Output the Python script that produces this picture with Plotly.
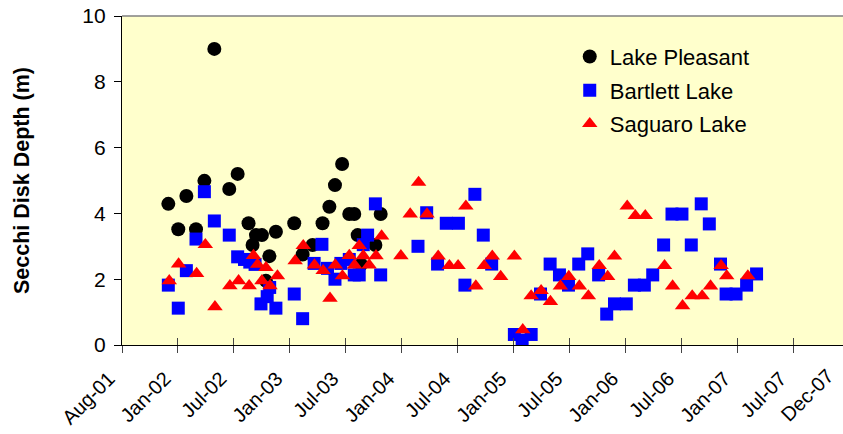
import plotly.graph_objects as go
import pandas as pd

# ---------------- data ----------------
pleasant_dates = ['2001-12-28','2002-01-29','2002-02-24','2002-03-27','2002-04-23','2002-05-25',
                  '2002-07-12','2002-08-08','2002-09-12','2002-09-25','2002-10-06','2002-10-25',
                  '2002-11-07','2002-11-18','2002-12-09','2003-02-06','2003-03-05','2003-04-06',
                  '2003-05-08','2003-05-30','2003-06-17','2003-07-10','2003-08-02','2003-08-18',
                  '2003-08-29','2003-09-09','2003-10-25','2003-11-11']
pleasant_depth = [4.29, 3.52, 4.53, 3.52, 4.99, 9.0,
                  4.74, 5.20, 3.70, 3.04, 3.34, 3.34,
                  1.95, 2.70, 3.44, 3.70, 2.75, 3.04,
                  3.70, 4.20, 4.86, 5.50, 3.98, 3.98,
                  3.34, 2.45, 3.04, 3.98]

bartlett_dates = ['2001-12-28','2002-01-29','2002-02-24','2002-03-27','2002-04-23','2002-05-25',
                  '2002-07-12','2002-08-08','2002-08-30','2002-09-16','2002-10-03','2002-10-22',
                  '2002-11-11','2002-11-19','2002-12-09','2003-02-06','2003-03-05','2003-04-11',
                  '2003-05-06','2003-05-24','2003-06-17','2003-07-06','2003-08-02','2003-08-18',
                  '2003-09-03','2003-09-16','2003-09-30','2003-10-25','2003-11-11','2004-03-10',
                  '2004-04-07','2004-05-12','2004-06-09','2004-07-18','2004-08-08','2004-09-09',
                  '2004-10-06','2004-11-02','2005-01-14','2005-02-08','2005-03-09','2005-04-08',
                  '2005-05-09','2005-06-08','2005-07-07','2005-08-09','2005-09-07','2005-10-12',
                  '2005-11-07','2005-12-02','2006-01-09','2006-02-04','2006-03-08','2006-04-04',
                  '2006-05-09','2006-06-05','2006-07-07','2006-08-06','2006-09-07','2006-10-03',
                  '2006-11-08','2006-11-26','2006-12-28','2007-01-31','2007-03-04']
bartlett_depth = [1.82, 1.12, 2.26, 3.22, 4.66, 3.77,
                  3.34, 2.68, 2.60, 2.52, 2.45, 1.25,
                  1.47, 1.75, 1.12, 1.55, 0.80, 2.48,
                  3.06, 2.33, 2.00, 2.48, 2.60, 2.13,
                  2.13, 3.05, 3.34, 4.29, 2.13, 3.00,
                  4.02, 2.46, 3.70, 3.70, 1.82, 4.58,
                  3.34, 2.46, 0.32, 0.15, 0.32, 1.55,
                  2.46, 2.13, 1.82, 2.46, 2.77, 2.13,
                  0.94, 1.25, 1.25, 1.82, 1.82, 2.13,
                  3.04, 3.98, 3.98, 3.04, 4.29, 3.68,
                  2.46, 1.55, 1.55, 1.82, 2.16]

saguaro_dates = ['2001-12-31','2002-01-30','2002-03-29','2002-04-26','2002-05-27','2002-07-14',
                 '2002-08-11','2002-09-14','2002-09-28','2002-10-11','2002-10-25','2002-11-07',
                 '2002-11-20','2002-12-14','2003-02-09','2003-03-07','2003-04-12','2003-05-10',
                 '2003-06-01','2003-06-18','2003-07-11','2003-08-02','2003-08-19','2003-09-03',
                 '2003-09-16','2003-10-05','2003-10-27','2003-11-14','2004-01-15','2004-02-14',
                 '2004-03-12','2004-04-08','2004-05-14','2004-06-19','2004-07-17','2004-08-11',
                 '2004-09-12','2004-10-09','2004-11-04','2004-12-01','2005-01-14','2005-02-10',
                 '2005-03-09','2005-04-10','2005-05-10','2005-06-11','2005-07-08','2005-08-11',
                 '2005-09-09','2005-10-14','2005-11-10','2005-12-02','2006-01-12','2006-02-07',
                 '2006-03-11','2006-05-12','2006-06-07','2006-07-09','2006-08-09','2006-09-10',
                 '2006-10-07','2006-11-10','2006-11-28','2007-02-04']
saguaro_depth = [1.95, 2.46, 2.17, 3.05, 1.16, 1.80,
                 1.95, 1.80, 2.72, 2.45, 1.95, 2.35,
                 1.80, 2.10, 2.56, 3.02, 2.43, 2.26,
                 1.42, 2.43, 2.10, 2.72, 2.43, 3.02,
                 2.71, 2.43, 2.71, 3.31, 2.71, 3.98,
                 4.94, 3.98, 2.70, 2.41, 2.41, 4.22,
                 1.79, 2.41, 2.70, 2.08, 2.70, 0.46,
                 1.49, 1.65, 1.32, 1.79, 2.08, 1.79,
                 1.49, 2.41, 2.08, 2.70, 4.22, 3.93,
                 3.93, 2.41, 1.79, 1.19, 1.49, 1.49,
                 1.79, 2.41, 2.10, 2.10]

tick_dates = ['2001-08-01','2002-01-28','2002-07-27','2003-01-23','2003-07-22','2004-01-18',
              '2004-07-16','2005-01-12','2005-07-11','2006-01-07','2006-07-06','2007-01-02',
              '2007-07-01','2007-12-28']
tick_labels = ['Aug-01','Jan-02','Jul-02','Jan-03','Jul-03','Jan-04','Jul-04','Jan-05',
               'Jul-05','Jan-06','Jul-06','Jan-07','Jul-07','Dec-07']
x_range = ['2001-08-01', '2007-12-07']
y_ticks = [0, 2, 4, 6, 8, 10]

FONT = 'Liberation Sans, Arial, sans-serif'
TICK_SIZE = 20

fig = go.Figure()
fig.add_trace(go.Scatter(x=pleasant_dates, y=pleasant_depth, mode='markers', name='Lake Pleasant',
                         legendgroup='a',
                         marker=dict(symbol='circle', size=14, color='#000000', line=dict(width=0))))
fig.add_trace(go.Scatter(x=bartlett_dates, y=bartlett_depth, mode='markers', name='Bartlett Lake',
                         legendgroup='b',
                         marker=dict(symbol='square', size=13, color='#0000FF', line=dict(width=0))))
fig.add_trace(go.Scatter(x=saguaro_dates, y=saguaro_depth, mode='markers', name='Saguaro Lake',
                         legendgroup='c',
                         marker=dict(symbol='triangle-up', size=13.5, color='#FF0000', line=dict(width=0))))

in_range = [i for i, d in enumerate(tick_dates) if d <= x_range[1]]
out_range = [i for i, d in enumerate(tick_dates) if d > x_range[1]]

fig.update_layout(
    width=843, height=434,
    margin=dict(l=122, r=0, t=16, b=89, pad=0),
    paper_bgcolor='white',
    plot_bgcolor='#FFFFCC',
    font=dict(family=FONT, size=TICK_SIZE, color='black'),
    showlegend=True,
    legend=dict(x=0.621, y=0.94, xanchor='left', yanchor='top',
                bgcolor='rgba(0,0,0,0)', borderwidth=0,
                font=dict(family=FONT, size=22, color='black'),
                traceorder='grouped', tracegroupgap=2, itemwidth=30),
    xaxis=dict(type='date', range=x_range,
               tickmode='array', tickvals=[tick_dates[i] for i in in_range],
               ticktext=[tick_labels[i] for i in in_range],
               tickangle=-45, ticks='outside', ticklen=7, tickcolor='#444444', tickwidth=1,
               ticklabelstandoff=6, ticklabelshift=-13,
               showline=True, linecolor='black', linewidth=1.3,
               showgrid=False, zeroline=False,
               tickfont=dict(family=FONT, size=TICK_SIZE, color='black')),
    xaxis2=dict(type='date', range=x_range, overlaying='x', anchor='y', side='bottom',
                tickmode='array', tickvals=[tick_dates[i] for i in in_range],
                showticklabels=False, ticks='inside', ticklen=7, tickcolor='#444444',
                showline=False, showgrid=False, zeroline=False),
    yaxis=dict(range=[0, 10], tickmode='array', tickvals=y_ticks,
               ticks='outside', ticklen=7, tickcolor='black', ticklabelstandoff=4,
               showline=True, linecolor='black', linewidth=1.3,
               showgrid=False, zeroline=False,
               tickfont=dict(family=FONT, size=21, color='black'),
               title=dict(text='<b>Secchi Disk Depth (m)</b>', standoff=46,
                          font=dict(family=FONT, size=21.5, color='black'))),
)
fig.add_trace(go.Scatter(x=[tick_dates[0]], y=[None], xaxis='x2', showlegend=False,
                         hoverinfo='skip', mode='markers'))

# top border of plot area
fig.add_shape(type='line', xref='paper', yref='paper', x0=0, x1=1, y0=1, y1=1,
              line=dict(color='#808080', width=1.3))

# tick labels beyond the visible range (placed via the axis scale in paper units)
t0 = pd.Timestamp(x_range[0])
t1 = pd.Timestamp(x_range[1])
for i in out_range:
    frac = (pd.Timestamp(tick_dates[i]) - t0) / (t1 - t0)
    fig.add_annotation(x=frac, y=0, xref='paper', yref='paper', text=tick_labels[i],
                       textangle=-45, showarrow=False, xanchor='right', yanchor='top',
                       xshift=-9, yshift=-17, font=dict(family=FONT, size=TICK_SIZE, color='black'))

fig.write_html("out.html")
